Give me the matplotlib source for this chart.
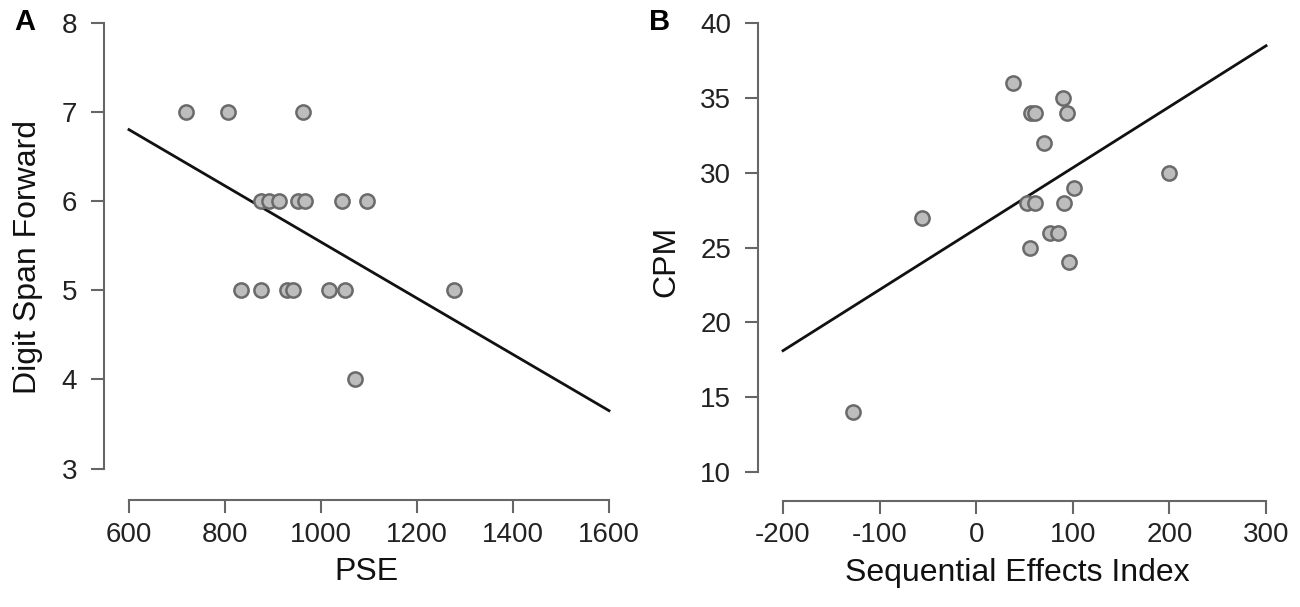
import numpy as np
import matplotlib
matplotlib.use("Agg")
import matplotlib.pyplot as plt

plt.rcParams['font.family'] = ['Liberation Sans', 'DejaVu Sans']
plt.rcParams['axes.unicode_minus'] = False

# Panel A: PSE vs Digit Span Forward
pse = [719, 807, 963,
       876, 892, 913, 953, 967, 1044, 1095,
       833, 874, 930, 942, 1017, 1051, 1278,
       1071]
digit_span = [7, 7, 7,
              6, 6, 6, 6, 6, 6, 6,
              5, 5, 5, 5, 5, 5, 5,
              4]
fit_a_x = [600, 1600]
fit_a_y = [6.80, 3.65]

# Panel B: Sequential Effects Index vs CPM
sei = [38, 90, 57, 61, 94, 70, 200, 101, 53, 61, 91, -56, 76, 85, 56, 96, -128]
cpm = [36, 35, 34, 34, 34, 32, 30, 29, 28, 28, 28, 27, 26, 26, 25, 24, 14]
fit_b_x = [-200, 300]
fit_b_y = [18.1, 38.5]

W, H = 1300, 607
fig = plt.figure(figsize=(W / 100, H / 100), dpi=100)


def px_axes(left, right, top, bottom):
    return fig.add_axes([left / W, 1 - bottom / H, (right - left) / W, (bottom - top) / H])


axis_grey = "#666666"


def style(ax, xb, yb, xt, yt):
    for s in ("top", "right"):
        ax.spines[s].set_visible(False)
    for s in ("left", "bottom"):
        ax.spines[s].set_color(axis_grey)
        ax.spines[s].set_linewidth(1.5)
    ax.spines["bottom"].set_bounds(*xb)
    ax.spines["left"].set_bounds(*yb)
    ax.set_xticks(xt)
    ax.set_yticks(yt)
    ax.tick_params(axis="both", colors=axis_grey, width=1.5, length=9.5,
                   labelsize=20, labelcolor="#222222")
    ax.tick_params(axis="x", pad=6)
    ax.tick_params(axis="y", pad=10)
    ax.patch.set_visible(False)


# panel A
ax1 = px_axes(104, 629, 4.9, 500)
ax1.set_xlim(548, 1641.6)
ax1.set_ylim(2.649, 8.198)
ax1.plot(fit_a_x, fit_a_y, color="#111111", lw=2.0, zorder=2)
ax1.scatter(pse, digit_span, s=105, facecolor="#bdbdbd", edgecolor="#6a6a6a",
            linewidth=1.8, zorder=3)
style(ax1, (600, 1600), (3, 8), range(600, 1601, 200), range(3, 9))
ax1.set_xlabel("PSE", fontsize=23, color="#111111", labelpad=7)
ax1.set_ylabel("Digit Span Forward", fontsize=23, color="#111111")
ax1.yaxis.set_label_coords(-0.116, 0.49)

# panel B
ax2 = px_axes(758.3, 1275.7, 8.4, 500.7)
ax2.set_xlim(-225.6, 310)
ax2.set_ylim(8.06, 41)
ax2.plot(fit_b_x, fit_b_y, color="#111111", lw=2.0, zorder=2)
ax2.scatter(sei, cpm, s=105, facecolor="#bdbdbd", edgecolor="#6a6a6a",
            linewidth=1.8, zorder=3)
style(ax2, (-200, 300), (10, 40), range(-200, 301, 100), range(10, 41, 5))
ax2.set_xlabel("Sequential Effects Index", fontsize=23, color="#111111", labelpad=7)
ax2.set_ylabel("CPM", fontsize=23, color="#111111")
ax2.yaxis.set_label_coords(-0.148, 0.485)

fig.text(25 / W, 1 - 22 / H, "A", fontsize=21, fontweight="bold", ha="center", va="center")
fig.text(660 / W, 1 - 22 / H, "B", fontsize=21, fontweight="bold", ha="center", va="center")

fig.savefig("out.png", dpi=100)
